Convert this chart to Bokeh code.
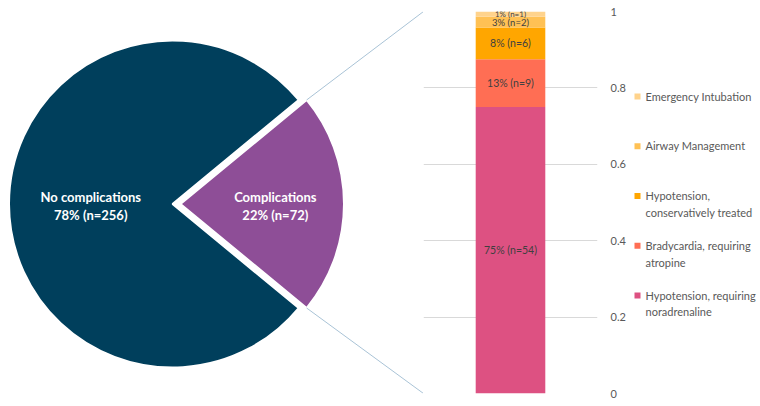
import math
from bokeh.plotting import figure
from bokeh.layouts import row
from bokeh.models import Range1d, LinearAxis, FixedTicker, ColumnDataSource
from bokeh.embed import file_html
from bokeh.resources import INLINE
from bokeh.core.properties import value

# ---------------- data ----------------
pie_labels = ["No complications", "Complications"]
pie_counts = [256, 72]
pie_colors = ["#003f5c", "#8e4e97"]

comp_labels = ["Hypotension, requiring\nnoradrenaline",
               "Bradycardia, requiring\natropine",
               "Hypotension,\nconservatively treated",
               "Airway Management",
               "Emergency Intubation"]
comp_counts = [54, 9, 6, 2, 1]
comp_colors = ["#dd5182", "#ff6e54", "#ffa600", "#ffc154", "#ffd38c"]
comp_label_sizes = ["10.5px", "10.5px", "10.5px", "9.5px", "8px"]

y_ticks = [0, 0.2, 0.4, 0.6, 0.8, 1]

FONT = "Lato"
TXT = "#595959"

W, H = 760, 406
TOP, BOT = 11, 13          # page-pixel borders shared by all panels (row aligns frames)

def pct(n, tot):
    return int(math.floor(100.0 * n / tot + 0.5))

def plain_fig(w, **kw):
    f = figure(width=w, height=H, output_backend="svg", toolbar_location=None,
               x_axis_location=None, y_axis_location=None, title=None,
               min_border_top=TOP, min_border_bottom=BOT, **kw)
    f.grid.visible = False
    f.outline_line_color = None
    return f

# ---------------- pie figure (data units = page pixels, y measured from bottom) ----------------
WA = 423
pa = plain_fig(WA, x_range=Range1d(0, WA), y_range=Range1d(BOT, H - TOP),
               min_border_left=0, min_border_right=0)

total = sum(pie_counts)
frac_c = pie_counts[1] / total
half = math.pi * frac_c
cx, cy, R, explode = 172.0, H - 203.5, 163.5, 8.0

pa.wedge(x=[cx], y=[cy], radius=R, start_angle=[half], end_angle=[2 * math.pi - half],
         fill_color=pie_colors[0], line_color="white", line_width=2)
pcx = cx + explode
pa.wedge(x=[pcx], y=[cy], radius=R, start_angle=[-half], end_angle=[half],
         fill_color=pie_colors[1], line_color="white", line_width=2)

lab_src = ColumnDataSource(dict(
    x=[cx - 0.5 * R, pcx + 0.58 * R],
    y=[cy - 2, cy - 2],
    t=[f"{pie_labels[i]}\n{pct(pie_counts[i], total)}% (n={pie_counts[i]})" for i in range(2)],
))
pa.text(x="x", y="y", text="t", source=lab_src, text_align="center", text_baseline="middle",
        text_color="white", text_font=value(FONT), text_font_style="bold",
        text_font_size="13px", text_line_height=1.15)

# connector lines to the top and bottom of the bar axis
x1 = pcx + R * math.cos(half)
pa.segment(x0=[x1, x1], y0=[cy + R * math.sin(half), cy - R * math.sin(half)],
           x1=[WA, WA], y1=[H - TOP, BOT],
           line_color="#a9c3d6", line_width=1)

# ---------------- bar figure ----------------
FW = 175
AXW = 30
pb = plain_fig(FW + AXW, x_range=Range1d(0, 1), y_range=Range1d(0, 1),
               min_border_left=0, min_border_right=AXW)

c = 0.0
ctot = sum(comp_counts)
fr = [n / ctot for n in comp_counts]
bottoms, tops = [], []
for f in fr:
    bottoms.append(c)
    c += f
    tops.append(c)

bsrc = ColumnDataSource(dict(x=[0.5] * len(fr), bottom=bottoms, top=tops, color=comp_colors))
pb.vbar(x="x", width=0.4, bottom="bottom", top="top", fill_color="color", line_color=None,
        source=bsrc)

tsrc = ColumnDataSource(dict(
    x=[0.5] * len(fr),
    y=[(b + t) / 2 for b, t in zip(bottoms, tops)],
    t=[f"{pct(n, ctot)}% (n={n})" for n in comp_counts],
    s=comp_label_sizes,
))
pb.text(x="x", y="y", text="t", source=tsrc, text_align="center", text_baseline="middle",
        text_color="#404040", text_font=value(FONT), text_font_size="s")

ax = LinearAxis(ticker=FixedTicker(ticks=y_ticks))
ax.major_label_overrides = {t: f"{t:g}" for t in y_ticks}
ax.axis_line_color = None
ax.major_tick_line_color = None
ax.minor_tick_line_color = None
ax.major_label_text_color = TXT
ax.major_label_text_font = FONT
ax.major_label_text_font_size = "11px"
ax.major_label_standoff = 7
pb.add_layout(ax, "right")
pb.ygrid.visible = True
pb.ygrid.ticker = FixedTicker(ticks=y_ticks)
pb.ygrid.grid_line_color = "#d9d9d9"
pb.ygrid.grid_line_width = 1

# ---------------- legend figure ----------------
WC = W - WA - FW - AXW
pc = plain_fig(WC, x_range=Range1d(0, WC), y_range=Range1d(BOT, H - TOP),
               min_border_left=0, min_border_right=0)

n = len(comp_labels)
first_y = H - 96
step = 49.75
order = list(range(n))[::-1]  # top entry = last series
ly = [first_y - k * step for k in range(n)]
lsrc = ColumnDataSource(dict(
    x=[9] * n, tx=[17] * n, y=ly, ty=[v + 7 for v in ly],
    c=[comp_colors[i] for i in order], t=[comp_labels[i] for i in order],
))
pc.scatter(x="x", y="y", marker="square", size=6, fill_color="c", line_color=None, source=lsrc)
pc.text(x="tx", y="ty", text="t", source=lsrc, text_align="left", text_baseline="top",
        text_color=TXT, text_font=value(FONT), text_font_size="11px", text_line_height=1.3)

layout = row(pa, pb, pc, spacing=0)
open("out.html", "w").write(file_html(layout, INLINE))
